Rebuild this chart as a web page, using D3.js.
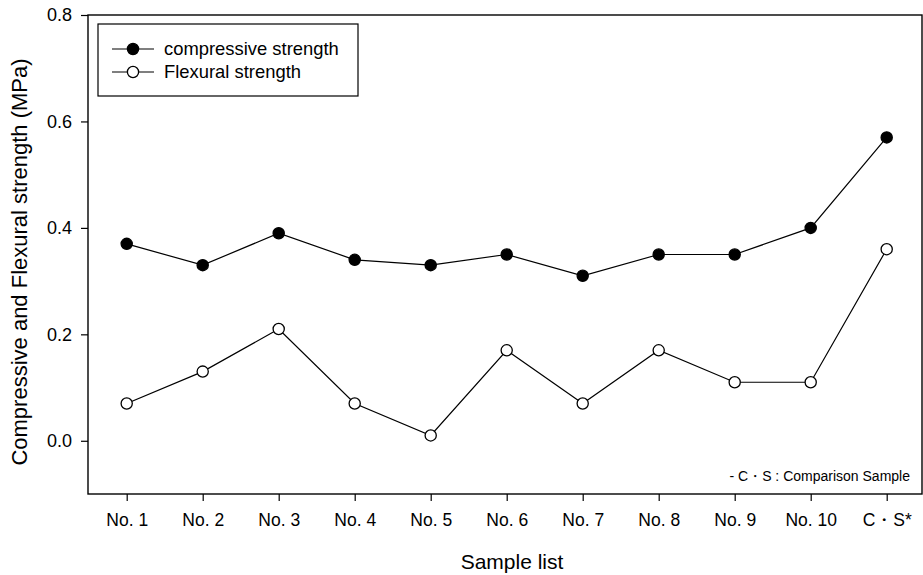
<!DOCTYPE html>
<html>
<head>
<meta charset="utf-8">
<script src="https://cdn.jsdelivr.net/npm/d3@7"></script>
<style>
  body { margin: 0; background: #fff; overflow: hidden; }
  svg { display: block; }
  text { font-family: "Liberation Sans", Arial, sans-serif; fill: #000; }
</style>
</head>
<body>
<div id="chart"></div>
<script>
// data
const samples = ["No. 1", "No. 2", "No. 3", "No. 4", "No. 5", "No. 6", "No. 7", "No. 8", "No. 9", "No. 10", "C\u30FBS*"];
const compressive = [0.37, 0.33, 0.39, 0.34, 0.33, 0.35, 0.31, 0.35, 0.35, 0.40, 0.57];
const flexural = [0.07, 0.13, 0.21, 0.07, 0.01, 0.17, 0.07, 0.17, 0.11, 0.11, 0.36];
const yTicks = [0.0, 0.2, 0.4, 0.6, 0.8];

const width = 923, height = 575;
const margin = { top: 15, left: 88, right: 1, bottom: 81 };
const innerWidth = width - margin.left - margin.right;
const innerHeight = height - margin.top - margin.bottom;

const svg = d3.select("#chart").append("svg")
  .attr("width", width)
  .attr("height", height);

const g = svg.append("g")
  .attr("transform", `translate(${margin.left},${margin.top})`);

const xScale = d3.scalePoint()
  .domain(samples)
  .range([38.7, 798.7]);

const yScale = d3.scaleLinear()
  .domain([-0.1, 0.8])
  .range([innerHeight, 0]);

// frame
g.append("rect")
  .attr("width", innerWidth)
  .attr("height", innerHeight)
  .attr("fill", "none")
  .attr("stroke", "#000")
  .attr("stroke-width", 1.4);

const xAxis = g.append("g")
  .attr("transform", `translate(0,${innerHeight})`)
  .call(d3.axisBottom(xScale).tickSize(7).tickPadding(13));
xAxis.select(".domain").remove();
xAxis.selectAll("line").attr("stroke-width", 1.2);
xAxis.selectAll("text").style("font-size", "17.5px");

const yAxis = g.append("g")
  .call(d3.axisLeft(yScale).tickValues(yTicks).tickFormat(d3.format(".1f")).tickSize(7).tickPadding(9));
yAxis.select(".domain").remove();
yAxis.selectAll("line").attr("stroke-width", 1.2);
yAxis.selectAll("text").style("font-size", "18px");

// axis titles
svg.append("text")
  .attr("x", 512)
  .attr("y", 569)
  .attr("text-anchor", "middle")
  .style("font-size", "21px")
  .text("Sample list");

svg.append("text")
  .attr("transform", "translate(27,262) rotate(-90)")
  .attr("text-anchor", "middle")
  .style("font-size", "22px")
  .text("Compressive and Flexural strength (MPa)");

// series
const line = d3.line()
  .x((d, i) => xScale(samples[i]))
  .y(d => yScale(d));

const series = [
  { name: "compressive strength", values: compressive, fill: "#000" },
  { name: "Flexural strength", values: flexural, fill: "#fff" }
];

series.forEach(s => {
  g.append("path")
    .datum(s.values)
    .attr("fill", "none")
    .attr("stroke", "#000")
    .attr("stroke-width", 1.2)
    .attr("d", line);

  g.selectAll(null)
    .data(s.values)
    .enter()
    .append("circle")
    .attr("cx", (d, i) => xScale(samples[i]))
    .attr("cy", d => yScale(d))
    .attr("r", 5.6)
    .attr("fill", s.fill)
    .attr("stroke", "#000")
    .attr("stroke-width", 1.3);
});

// legend
const legend = g.append("g")
  .attr("transform", "translate(10,9)");

legend.append("rect")
  .attr("width", 260)
  .attr("height", 72)
  .attr("fill", "#fff")
  .attr("stroke", "#000")
  .attr("stroke-width", 1.2);

series.forEach((s, i) => {
  const row = legend.append("g")
    .attr("transform", `translate(0,${25 + i * 23})`);
  row.append("line")
    .attr("x1", 14).attr("x2", 56)
    .attr("stroke", "#000")
    .attr("stroke-width", 1.2);
  row.append("circle")
    .attr("cx", 35)
    .attr("r", 5.6)
    .attr("fill", s.fill)
    .attr("stroke", "#000")
    .attr("stroke-width", 1.3);
  row.append("text")
    .attr("x", 66)
    .attr("dy", "0.35em")
    .style("font-size", "18.4px")
    .text(s.name);
});

// note
g.append("text")
  .attr("x", innerWidth - 12)
  .attr("y", innerHeight - 13)
  .attr("text-anchor", "end")
  .style("font-size", "14px")
  .text("- C\u30FBS : Comparison Sample");
</script>
</body>
</html>
